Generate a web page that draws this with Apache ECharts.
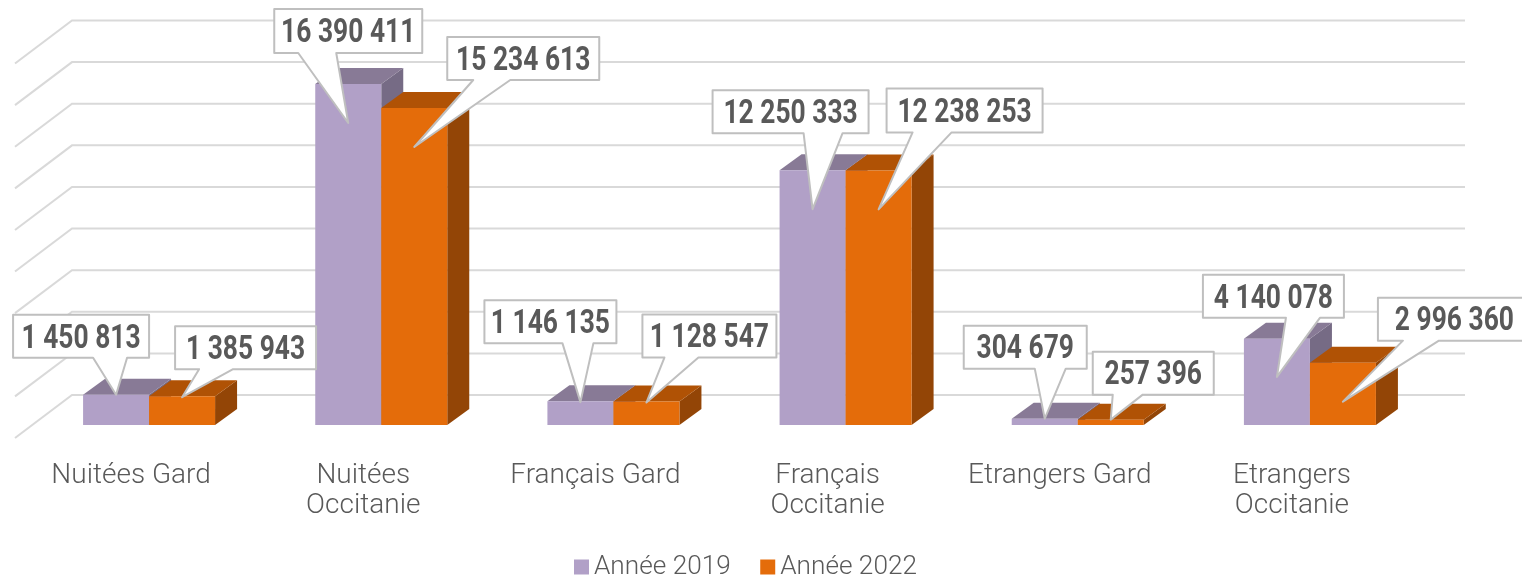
<!DOCTYPE html>
<html lang="fr">
<head>
<meta charset="utf-8">
<title>Nuitées 2019 / 2022</title>
<script src="https://cdn.jsdelivr.net/npm/echarts@6/dist/echarts.min.js"></script>
<style>html,body{margin:0;padding:0;background:#fff}#chart{width:1522px;height:579px}</style>
</head>
<body>
<div id="chart"></div>
<script>
const categories = ['Nuitées Gard', 'Nuitées\nOccitanie', 'Français Gard', 'Français\nOccitanie', 'Etrangers Gard', 'Etrangers\nOccitanie'];
const seriesNames = ['Année 2019', 'Année 2022'];
const values2019 = [1450813, 16390411, 1146135, 12250333, 304679, 4140078];
const values2022 = [1385943, 15234613, 1128547, 12238253, 257396, 2996360];
const yTicks = [0, 2000000, 4000000, 6000000, 8000000, 10000000, 12000000, 14000000, 16000000, 18000000];

// Layout of the pseudo-3D look and callouts (offsets in px, relative to the bar's top centre)
const WALL = [57, -43], BAR_OFFSET = [18, -13], BAR_DEPTH = [22, -16], BAR_RATIO = 0.2843;
const faces2019 = {front: '#b1a0c7', top: '#887a96', side: '#766b85'};
const faces2022 = {front: '#e46c0a', top: '#b05205', side: '#934506'};
// [boxLeft, boxTop, boxW, boxH, baseL, baseR, tipDy]
const callouts2019 = [
  [-103, -80, 136, 43, -23, 11, 0], [-74, -75, 148, 44, -50, -12, 39], [-96, -101, 132, 43, -18, 13, 1],
  [-100, -80, 156, 43, -9, 30, 39], [-81, -93, 123, 43, -10, 21, 0], [-74, -64, 141, 43, 9, 43, 38]
];
const callouts2022 = [
  [-7, -70, 141, 43, 17, 51, 1], [33, -71, 152, 43, 59, 96, 39], [-4, -87, 134, 43, 18, 52, 1],
  [8, -82, 156, 44, 34, 73, 39], [-18, -68, 121, 43, 2, 32, 0], [35, -65, 153, 43, 60, 96, 39]
];

const fmt = v => String(v).replace(/\B(?=(\d{3})+$)/g, ' ');
const chart = echarts.init(document.getElementById('chart'), null, {renderer: 'canvas'});

function gridRender(params, api) {
  const cs = params.coordSys;
  const y = api.coord([0, api.value(1)])[1];
  return {
    type: 'polyline',
    shape: {points: [[cs.x, y], [cs.x + WALL[0], y + WALL[1]], [cs.x + cs.width + WALL[0], y + WALL[1]]]},
    style: {stroke: '#d9d9d9', lineWidth: 2, fill: null}
  };
}

function barRender(side, faces) {
  return function (params, api) {
    const top = api.coord([api.value(0), api.value(1)]);
    const base = api.coord([api.value(0), 0]);
    const w = api.size([1, 0])[0] * BAR_RATIO;
    const x0 = top[0] + BAR_OFFSET[0] + (side < 0 ? -w : 0);
    const x1 = x0 + w;
    const yt = top[1] + BAR_OFFSET[1];
    const yb = base[1] + BAR_OFFSET[1];
    const dx = BAR_DEPTH[0], dy = BAR_DEPTH[1];
    return {
      type: 'group',
      children: [
        {type: 'polygon', shape: {points: [[x1, yt], [x1 + dx, yt + dy], [x1 + dx, yb + dy], [x1, yb]]}, style: {fill: faces.side}},
        {type: 'polygon', shape: {points: [[x0, yt], [x0 + dx, yt + dy], [x1 + dx, yt + dy], [x1, yt]]}, style: {fill: faces.top}},
        {type: 'rect', shape: {x: x0, y: yt, width: w, height: yb - yt}, style: {fill: faces.front}}
      ]
    };
  };
}

function calloutRender(side, layout) {
  return function (params, api) {
    const i = api.value(0), v = api.value(1);
    const top = api.coord([i, v]);
    const w = api.size([1, 0])[0] * BAR_RATIO;
    const cx = top[0] + BAR_OFFSET[0] + side * w / 2;
    const ty = top[1] + BAR_OFFSET[1];
    const L = layout[i];
    const bx = cx + L[0], by = ty + L[1], bw = L[2], bh = L[3];
    const points = [[bx, by], [bx + bw, by], [bx + bw, by + bh], [cx + L[5], by + bh], [cx, ty + L[6]], [cx + L[4], by + bh], [bx, by + bh]];
    return {
      type: 'group',
      children: [
        {type: 'polygon', shape: {points}, style: {fill: '#ffffff', stroke: '#bfbfbf', lineWidth: 2, lineJoin: 'round'}},
        {type: 'text', x: bx + bw / 2, y: by + bh / 2 + 3, scaleX: 0.8, style: {
          text: fmt(v), x: 0, y: 0, align: 'center', verticalAlign: 'middle',
          fill: '#595959', font: 'bold 33px Roboto'
        }}
      ]
    };
  };
}

const points = arr => arr.map((v, i) => [i, v]);

chart.setOption({
  animation: false,
  backgroundColor: '#ffffff',
  textStyle: {fontFamily: 'Roboto'},
  grid: {left: 15, top: 63.5, width: 1393, height: 374.5, containLabel: false},
  xAxis: {
    type: 'category', data: categories,
    axisLine: {show: false}, axisTick: {show: false}, splitLine: {show: false},
    axisLabel: {interval: 0, margin: 23, color: '#595959', fontFamily: 'Roboto', fontWeight: 300, fontSize: 28, lineHeight: 30}
  },
  yAxis: {type: 'value', min: 0, max: 18000000, interval: 2000000, show: false, splitLine: {show: false}},
  legend: {
    data: seriesNames, left: 569, top: 549, icon: 'rect', itemWidth: 15, itemHeight: 15, itemGap: 29.5,
    selectedMode: false,
    textStyle: {color: '#595959', fontFamily: 'Roboto', fontWeight: 300, fontSize: 26.2}
  },
  series: [
    {type: 'custom', name: 'grid', z: 1, silent: true, data: yTicks.map(v => [0, v]), renderItem: gridRender, clip: false},
    {type: 'custom', name: seriesNames[0], z: 2, itemStyle: {color: faces2019.front}, data: points(values2019), renderItem: barRender(-1, faces2019), clip: false},
    {type: 'custom', name: seriesNames[1], z: 3, itemStyle: {color: faces2022.front}, data: points(values2022), renderItem: barRender(1, faces2022), clip: false},
    {type: 'custom', name: 'labels2019', z: 4, data: points(values2019), renderItem: calloutRender(-1, callouts2019), clip: false},
    {type: 'custom', name: 'labels2022', z: 5, data: points(values2022), renderItem: calloutRender(1, callouts2022), clip: false}
  ]
});
</script>
</body>
</html>
